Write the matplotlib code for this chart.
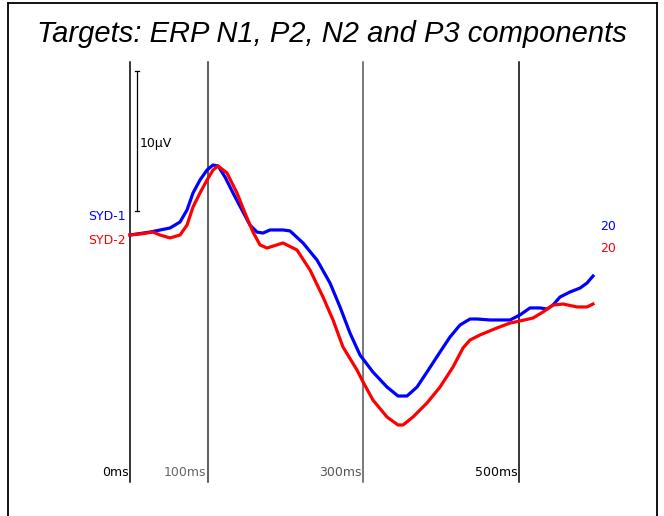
import matplotlib
matplotlib.use("Agg")
import matplotlib.pyplot as plt
from matplotlib.lines import Line2D

# ---- data (time in ms, amplitude in microvolts) ----
syd1_ms = [0, 25.7, 51.5, 64.4, 73.4, 81.1, 90.1, 99.1, 106.8, 113.3, 122.3, 132.6, 144.1,
           154.4, 163.4, 171.2, 180.2, 196.9, 205.9, 222.7, 240.7, 257.4, 270.3, 283.1,
           296.0, 312.7, 330.8, 344.9, 356.5, 369.4, 382.2, 399.0, 411.8, 424.7, 437.6,
           446.6, 463.3, 489.1, 501.9, 514.8, 527.7, 536.7, 544.4, 553.4, 566.3, 579.2,
           588.2, 595.9]
syd1_uv = [0, 0.21, 0.5, 0.93, 1.79, 3.0, 3.93, 4.64, 5.0, 4.93, 4.14, 3.0, 1.79,
           0.71, 0.21, 0.14, 0.36, 0.36, 0.29, -0.57, -1.79, -3.43, -5.14, -7.0,
           -8.57, -9.79, -10.86, -11.5, -11.5, -10.86, -9.79, -8.36, -7.29, -6.43, -6.0,
           -6.0, -6.07, -6.07, -5.71, -5.21, -5.21, -5.29, -5.0, -4.43, -4.07, -3.79,
           -3.43, -2.93]
syd2_ms = [0, 12.9, 29.6, 38.6, 51.5, 64.4, 73.4, 81.1, 90.1, 99.1, 106.8, 113.3, 124.8,
           137.7, 148.0, 158.3, 167.3, 176.3, 196.9, 214.9, 231.7, 248.4, 261.3, 274.1,
           292.1, 300.0, 312.7, 330.8, 344.9, 351.4, 364.2, 382.2, 399.0, 415.7, 428.6,
           437.6, 450.5, 472.3, 489.1, 501.9, 518.7, 531.5, 544.4, 557.3, 575.3, 588.2,
           595.9]
syd2_uv = [0, 0.07, 0.21, 0, -0.21, 0, 0.71, 2.0, 3.0, 3.93, 4.64, 4.93, 4.43,
           3.0, 1.57, 0.21, -0.71, -0.93, -0.57, -1.07, -2.5, -4.43, -6.07, -8.0,
           -9.64, -10.5, -11.79, -13.0, -13.57, -13.57, -13.0, -12.0, -10.86, -9.43, -8.07,
           -7.5, -7.14, -6.64, -6.29, -6.14, -5.93, -5.5, -5.0, -4.93, -5.14, -5.14,
           -4.93]
series_names = ["SYD-1", "SYD-2"]
series_counts = ["20", "20"]
marker_ms = [0, 100, 300, 500]
marker_labels = ["0ms", "100ms", "300ms", "500ms"]
scale_bar_uv = 10

title = "Targets: ERP N1, P2, N2 and P3 components"

# ---- figure ----
W, H = 664, 516
fig = plt.figure(figsize=(W / 100, H / 100), dpi=100)
ax = fig.add_axes([0, 0, 1, 1])
ax.set_axis_off()
px_per_ms = 0.777
px_per_uv = 14.0
x0_px, y0_px = 130, 235
ax.set_xlim(-x0_px / px_per_ms, (W - x0_px) / px_per_ms)
ax.set_ylim(-(H - y0_px) / px_per_uv, y0_px / px_per_uv)

font = ["Liberation Sans", "DejaVu Sans"]
small = ["DejaVu Sans"]
small_size = 9

# frame
fl = 8 / W; fr = 657 / W; ft = 1 - 3 / H
for xs, ys in [([fl, fl], [0, ft]), ([fl, fr], [ft, ft]), ([fr, fr], [0, ft])]:
    fig.add_artist(Line2D(xs, ys, color="black", lw=1.3, transform=fig.transFigure))

fig.text(0.5 * (35 + 628) / W, 1 - 34 / H, title, ha="center", va="center",
         fontsize=21, style="italic", family=font, color="black")

# vertical markers
y_top = (y0_px - 62) / px_per_uv
y_bot = (y0_px - 482) / px_per_uv
mcolors = ["black", "#333333", "#555555", "black"]
lcolors = ["black", "#666666", "#555555", "black"]
for m, lab, c, lc in zip(marker_ms, marker_labels, mcolors, lcolors):
    ax.plot([m, m], [y_bot, y_top], color=c, lw=1.1)
    ax.text(m - 1.5, (y0_px - 473) / px_per_uv, lab, ha="right", va="center",
            fontsize=small_size, family=small, color=lc)

# scale bar
sb_x = 9
sb_lo = (y0_px - 211) / px_per_uv
sb_hi = sb_lo + scale_bar_uv
ax.plot([sb_x, sb_x], [sb_lo, sb_hi], color="black", lw=0.9)
ax.plot([sb_x - 2.5, sb_x + 2.5], [sb_lo, sb_lo], color="black", lw=0.9)
ax.plot([sb_x - 2.5, sb_x + 2.5], [sb_hi, sb_hi], color="black", lw=0.9)
ax.text(sb_x + 4, (y0_px - 143) / px_per_uv, f"{scale_bar_uv}\u00b5V", ha="left",
        va="center", fontsize=small_size, family=small, color="black")

# curves
colors = ["#0000ff", "#ff0000"]
ax.plot(syd1_ms, syd1_uv, color=colors[0], lw=2.3, solid_joinstyle="round")
ax.plot(syd2_ms, syd2_uv, color=colors[1], lw=2.3, solid_joinstyle="round")

# labels
name_y = [(y0_px - 217) / px_per_uv, (y0_px - 240) / px_per_uv]
count_y = [(y0_px - 226) / px_per_uv, (y0_px - 248) / px_per_uv]
for name, cnt, c, ny, cy in zip(series_names, series_counts, colors, name_y, count_y):
    ax.text(-5, ny, name, ha="right", va="center", fontsize=small_size, family=small, color=c)
    ax.text(605, cy, cnt, ha="left", va="center", fontsize=small_size, family=small, color=c)

fig.savefig("out.png", dpi=100)
